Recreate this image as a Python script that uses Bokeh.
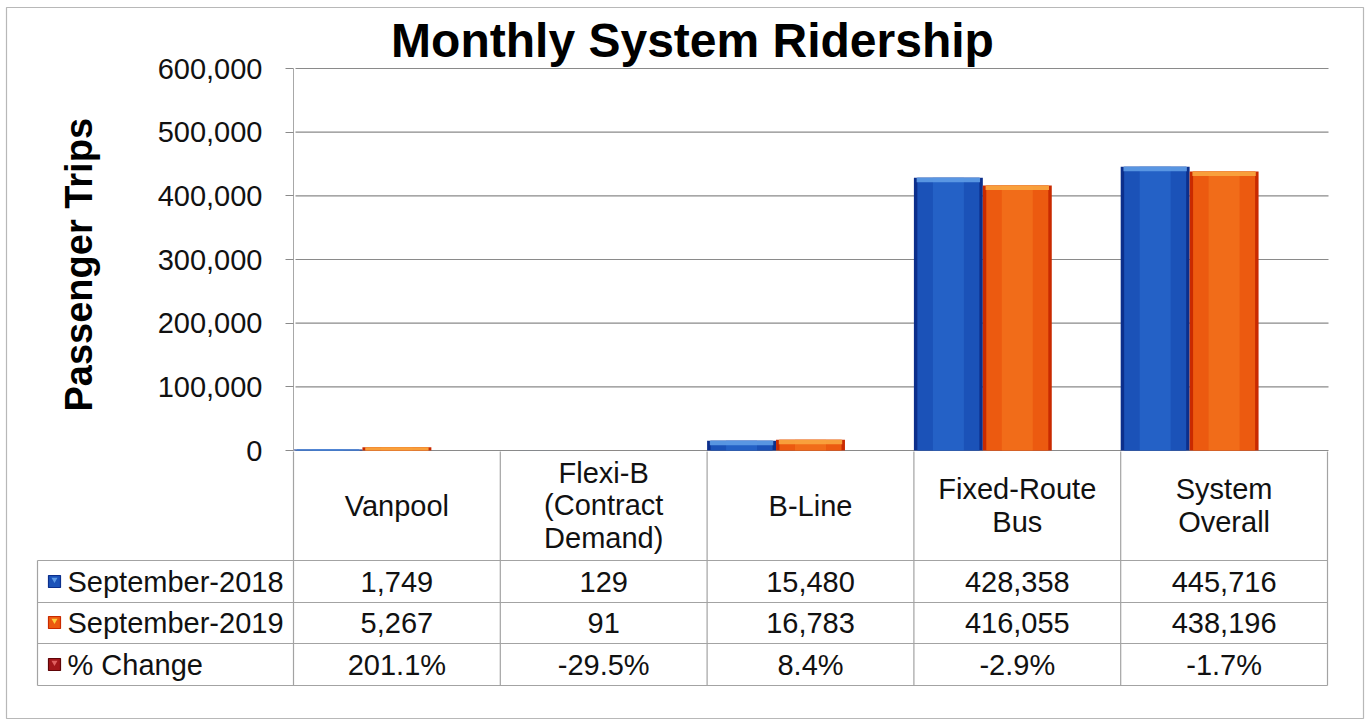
from bokeh.plotting import figure
from bokeh.models import Range1d, NumeralTickFormatter, FixedTicker, ColumnDataSource, LinearAxis
from bokeh.core.properties import value
from bokeh.embed import file_html
from bokeh.resources import INLINE

# ---------------- data ----------------
cat_keys = ["Vanpool", "Flexi-B", "B-Line", "Fixed-Route Bus", "System Overall"]
cat_labels = ["Vanpool", "Flexi-B\n(Contract\nDemand)", "B-Line", "Fixed-Route\nBus", "System\nOverall"]
sep_2018 = [1749, 129, 15480, 428358, 445716]
sep_2019 = [5267, 91, 16783, 416055, 438196]
pct_change = [201.1, -29.5, 8.4, -2.9, -1.7]
series_names = ["September-2018", "September-2019", "% Change"]
y_ticks = [0, 100000, 200000, 300000, 400000, 500000, 600000]
title_text = "Monthly System Ridership"
y_title = "Passenger  Trips"

# ---------------- style / layout (pixel positions of the page) ----------------
FONT = "Liberation Sans"
W, H = 1370, 725
PLOT_L, PLOT_R = 293, 1327     # left / right of category area
ZERO_Y, TOP_Y = 450, 68        # pixel rows of 0 and 600,000
CAT_PX = (PLOT_R - PLOT_L) / 5
S = 600000 / (ZERO_Y - TOP_Y)  # data units per pixel


def X(px):
    return (px - PLOT_L) / CAT_PX


def Y(px):
    return (ZERO_Y - px) * S


BAR_W = 1 / 3
BEVEL = 4.5 * S
GRID = "#8a8a8a"
TLINE = "#a3a3a3"
TXT = "#111111"
TSIZE = "29px"

BLUE = ("#0c2f8c", "#1b52b8", "#2e70d3", "#5f9ce6")
ORANGE = ("#c92a00", "#ec5a10", "#f67d22", "#f9a640")
RED = ("#5e0508", "#a3161a", "#e06060")

p = figure(x_range=Range1d(X(0), X(W)), y_range=Range1d(Y(H), Y(0)),
           width=W, height=H, min_border=0,
           x_axis_location=None, y_axis_location=None,
           output_backend="svg", toolbar_location=None)
p.outline_line_color = None
p.grid.grid_line_color = None
p.background_fill_color = "white"

# ---- y axis (fixed at the left wall of the plot) ----
ax = LinearAxis(fixed_location=0, bounds=(0, 600000))
ax.ticker = FixedTicker(ticks=y_ticks)
ax.formatter = NumeralTickFormatter(format="0,0")
ax.major_label_text_font = FONT
ax.major_label_text_font_size = "29px"
ax.major_label_text_color = TXT
ax.major_label_standoff = 23
ax.major_tick_out = 8
ax.major_tick_in = 0
ax.major_tick_line_color = GRID
ax.minor_tick_line_color = None
ax.axis_line_color = "#a8a8a8"
ax.axis_label = y_title
ax.axis_label_text_font = FONT
ax.axis_label_text_font_style = "bold"
ax.axis_label_text_font_size = "38px"
ax.axis_label_text_color = "#000000"
ax.axis_label_standoff = 55
p.add_layout(ax, "left")

# ---- gridlines (back wall) ----
p.segment(x0=[X(295)] * len(y_ticks), x1=[X(1328)] * len(y_ticks), y0=y_ticks, y1=y_ticks,
          line_color=GRID, line_width=1.2)

# ---- bars ----
idx = list(range(len(cat_keys)))
src = ColumnDataSource(dict(
    x18=[i + BAR_W / 2 for i in idx],
    x19=[i + BAR_W * 1.5 for i in idx],
    s18=sep_2018,
    s19=sep_2019,
    b18=[max(v - BEVEL, 0) for v in sep_2018],
    b19=[max(v - BEVEL, 0) for v in sep_2019],
))


def gradient_bar(xf, field, bevel_field, colors):
    edge, body, center, light = colors
    p.vbar(x=xf, top=field, bottom=0, width=BAR_W, source=src,
           fill_color=edge, line_color=None)
    p.vbar(x=xf, top=field, bottom=0, width=BAR_W * 0.9, source=src,
           fill_color=body, line_color=None)
    p.vbar(x=xf, top=field, bottom=0, width=BAR_W * 0.45, source=src,
           fill_color=center, fill_alpha=0.5, line_color=None)
    p.vbar(x=xf, top=field, bottom=bevel_field, width=BAR_W * 0.92, source=src,
           fill_color=light, fill_alpha=0.9, line_color=None)


gradient_bar("x18", "s18", "b18", BLUE)
gradient_bar("x19", "s19", "b19", ORANGE)

# ---- title ----
p.text(x=[X(692)], y=[Y(40)], text=[title_text], text_font=value(FONT),
       text_font_style="bold", text_font_size="48px", text_align="center",
       text_baseline="middle", text_color="#000000")

# ---- data table ----
n = len(cat_keys)
ROW_LINES = [Y(560), Y(602), Y(643), Y(685)]
ROW_MID = [Y(581), Y(622), Y(664)]
HEAD_MID = Y(505)
LEG_L = X(37)

p.segment(x0=[LEG_L] * 4, x1=[n] * 4, y0=ROW_LINES, y1=ROW_LINES,
          line_color=TLINE, line_width=1.2)
p.segment(x0=idx + [n], x1=idx + [n], y0=[Y(451)] * (n + 1), y1=[ROW_LINES[-1]] * (n + 1),
          line_color=TLINE, line_width=1.2)
p.segment(x0=[LEG_L], x1=[LEG_L], y0=[ROW_LINES[0]], y1=[ROW_LINES[-1]],
          line_color=TLINE, line_width=1.2)

centers = [i + 0.5 for i in idx]
p.text(x=centers, y=[HEAD_MID] * n, text=cat_labels, text_font=value(FONT),
       text_font_size=TSIZE, text_align="center", text_baseline="middle",
       text_color=TXT, text_line_height=1.03)

rows = [
    [f"{v:,}" for v in sep_2018],
    [f"{v:,}" for v in sep_2019],
    [f"{v:.1f}%" for v in pct_change],
]
for r, vals in enumerate(rows):
    p.text(x=centers, y=[ROW_MID[r]] * n, text=vals, text_font=value(FONT),
           text_font_size=TSIZE, text_align="center", text_baseline="middle",
           text_color=TXT)

p.scatter(x=[X(54)] * 3, y=ROW_MID, marker="square", size=12,
          fill_color=[BLUE[1], ORANGE[1], RED[1]],
          line_color=[BLUE[0], ORANGE[0], RED[0]], line_width=1.2)
p.scatter(x=[X(54)] * 3, y=[m + 2 * S for m in ROW_MID], marker="inverted_triangle", size=6,
          fill_color=[BLUE[3], "#fbd040", RED[2]], line_color=None)
p.text(x=[X(67)] * 3, y=ROW_MID, text=series_names, text_font=value(FONT),
       text_font_size=TSIZE, text_align="left", text_baseline="middle",
       text_color=TXT)

# ---- outer border ----
p.quad(left=[X(6)], right=[X(1363)], top=[Y(7)], bottom=[Y(718)],
       fill_color=None, line_color="#b8b8b8", line_width=1.2)

open("out.html", "w").write(file_html(p, INLINE))
